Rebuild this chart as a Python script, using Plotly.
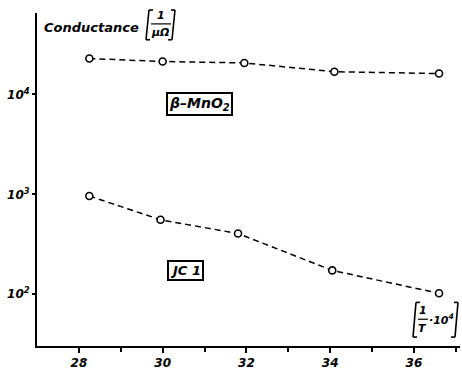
import plotly.graph_objects as go

# Data
inv_T = [28.25, 30.0, 31.95, 34.1, 36.6]
mno2_conductance = [22900, 21400, 20700, 16900, 16200]
jc1_x = [28.25, 29.95, 31.8, 34.05, 36.6]
jc1_conductance = [962, 556, 405, 173, 102]

x_tickvals = [28, 30, 32, 34, 36]
x_ticktext = ["28", "30", "32", "34", "36"]
y_tickvals = [100, 1000, 10000]
y_ticktext = ["10<sup>2</sup>", "10<sup>3</sup>", "10<sup>4</sup>"]

W, H = 462, 372
L, R, T, B = 37, 2, 13, 23
pw, ph = W - L - R, H - T - B

def px(x):
    return (x - L) / pw

def py(y):
    return (H - B - y) / ph

FONT = "DejaVu Sans"

fig = go.Figure()
for xs, ys in [(inv_T, mno2_conductance), (jc1_x, jc1_conductance)]:
    fig.add_trace(go.Scatter(
        x=xs, y=ys, mode="lines+markers",
        line=dict(color="black", width=1.5, dash="6px,4px"),
        marker=dict(symbol="circle", size=7, color="white", line=dict(width=1.6, color="black")),
        showlegend=False,
    ))

tickfont = dict(family=FONT, size=12, color="black", weight="bold", style="italic")

fig.update_layout(
    width=W, height=H,
    margin=dict(l=L, r=R, t=T, b=B, pad=0),
    paper_bgcolor="white", plot_bgcolor="white",
    font=dict(family=FONT, color="black", size=12),
    xaxis=dict(
        range=[27.0, 37.1], tickvals=x_tickvals, ticktext=x_ticktext,
        showgrid=False, zeroline=False, showline=True, linecolor="black", linewidth=2,
        ticks="outside", ticklen=5, tickwidth=1.5, tickcolor="black",
        tickfont=tickfont,
        minor=dict(tickvals=[29, 31, 33, 35, 37], ticks="outside", ticklen=4, tickwidth=1.5, tickcolor="black"),
    ),
    yaxis=dict(
        type="log", range=[1.481, 4.816], tickvals=y_tickvals, ticktext=y_ticktext,
        showgrid=False, zeroline=False, showline=True, linecolor="black", linewidth=2,
        ticks="outside", ticklen=3, tickwidth=1.5, tickcolor="black",
        tickfont=dict(family=FONT, size=12, color="black", weight="bold", style="italic"),
    ),
)

def ann(text, x, y, size=11, **kw):
    fig.add_annotation(text=text, xref="paper", yref="paper", x=px(x), y=py(y),
                       showarrow=False, xanchor=kw.pop("xanchor", "center"), yanchor="middle",
                       font=dict(family=FONT, size=size, color="black", weight="bold", style="italic"),
                       **kw)

def line(x0, y0, x1, y1, w=1.6):
    fig.add_shape(type="line", xref="paper", yref="paper",
                  x0=px(x0), y0=py(y0), x1=px(x1), y1=py(y1),
                  line=dict(color="black", width=w))

# Y-axis title: Conductance [1/μΩ]
ann("Conductance", 42, 28, size=13, xanchor="left")
line(149, 10, 146, 40); line(149, 10, 153, 10); line(146, 40, 150, 40)
ann("1", 161, 16, size=11)
line(151, 24, 171, 24, w=1.2)
ann("μΩ", 160, 33, size=11)
line(175, 10, 172, 40); line(175, 10, 171, 10); line(172, 40, 168, 40)

# X-axis title: [1/T · 10^4]
line(416, 305, 413, 340); line(416, 305, 420, 305); line(413, 340, 417, 340)
ann("1", 423, 313, size=11)
line(418, 322, 428, 322, w=1.2)
ann("T", 422, 331, size=11)
ann("·10<sup>4</sup>", 441, 322, size=11)
line(458, 305, 455, 340); line(458, 305, 454, 305); line(455, 340, 451, 340)

# Boxed labels
ann("β–MnO<sub>2</sub>", 199.5, 105, size=14, bordercolor="black", borderwidth=2, borderpad=1, bgcolor="white")
ann("JC 1", 185.5, 272.5, size=13, bordercolor="black", borderwidth=2, borderpad=1, bgcolor="white")

fig.write_html("out.html")
